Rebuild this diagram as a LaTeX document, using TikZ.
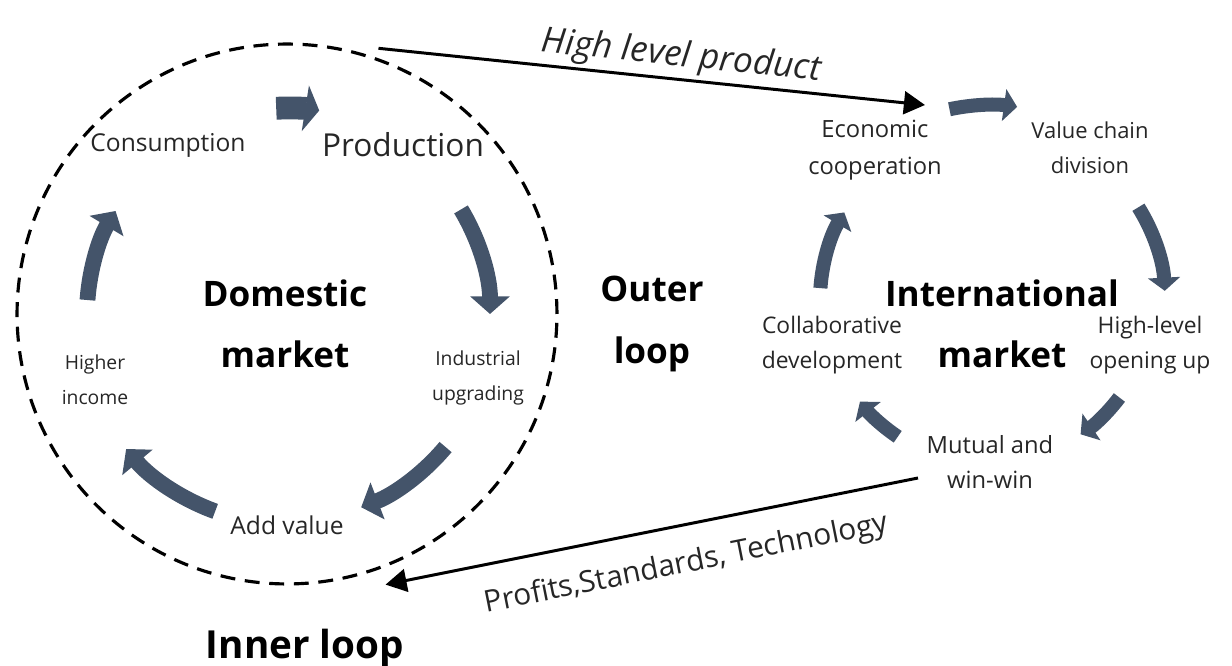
\documentclass[tikz,border=0pt]{standalone}
\usepackage{fontspec}
\setmainfont{Open Sans}
\usepackage{xcolor}
\definecolor{loopBlue}{HTML}{44546A}
\definecolor{loopText}{HTML}{262626}
\usepackage{tikz}
\usetikzlibrary{positioning, arrows.meta, calc}

\begin{document}
\begin{tikzpicture}[
    x=0.02cm, y=0.02cm,
    % labels of the cycle steps
    stepLbl/.style={align=center, inner sep=1pt, text=loopText,
        font=\fontsize{13}{20}\selectfont},
    bigLbl/.style={align=center, inner sep=1pt,
        font=\fontsize{20}{35}\selectfont\bfseries},
    % thick block arrows of the two loops
    cycArrow/.style={draw=loopBlue, line width=9pt,
        -{Triangle[width=22pt, length=10pt]}},
    cycArrowS/.style={draw=loopBlue, line width=8pt,
        -{Triangle[width=18pt, length=7.5pt]}},
    cycArrowT/.style={draw=loopBlue, line width=13pt,
        -{Triangle[width=26pt, length=8pt]}},
    % black connectors between the markets
    link/.style={line width=1.7pt, -{Triangle[width=13pt, length=12pt]}},
    linkLbl/.style={inner sep=1pt, text=loopText},
]
\useasboundingbox (0,0) rectangle (1232,666);

%% =================================================================
%% Domestic market (inner loop)
%% =================================================================
\coordinate (dc) at (287,352);
\node[circle, draw, line width=1.8pt, dash pattern=on 8.5pt off 5.5pt,
      minimum size=10.8cm, inner sep=0pt] (dom) at (dc) {};

\node[stepLbl, font=\fontsize{14}{20}\selectfont] (consum) at (168,521) {Consumption};
\node[stepLbl, font=\fontsize{18}{22}\selectfont] (prod) at (403,521) {Production};
\node[stepLbl, font=\fontsize{11}{20}\selectfont] (indus) at (478,288) {Industrial\\upgrading};
\node[stepLbl, font=\fontsize{14}{20}\selectfont] (addv) at (287,141) {Add value};
\node[stepLbl, font=\fontsize{11}{20}\selectfont] (higher) at (95,286) {Higher\\income};
\node[bigLbl] (domlbl) at (285,342) {Domestic\\market};

\draw[cycArrowT] ($(dc)+(93:206)$) arc[start angle=93, end angle=81, radius=206];
\draw[cycArrow] ($(dc)+(31:203)$) arc[start angle=31, end angle=0, radius=203];
\draw[cycArrow] ($(dc)+(-40:207)$) arc[start angle=-40, end angle=-69, radius=207];
\draw[cycArrow] ($(dc)+(-110:210)$) arc[start angle=-110, end angle=-140, radius=210];
\draw[cycArrow] ($(dc)+(176:200)$) arc[start angle=176, end angle=149, radius=200];

\node[bigLbl] (outer) at (652,342) {Outer\\loop};
\node[bigLbl, font=\fontsize{22}{26}\selectfont\bfseries] (inner) at (305,18) {Inner loop};

%% =================================================================
%% International market (outer loop)
%% =================================================================
\coordinate (rc) at (990,366);
\node[stepLbl, font=\fontsize{13.5}{21}\selectfont] (econ) at (875,516) {Economic\\cooperation};
\node[stepLbl, font=\fontsize{12.5}{20}\selectfont] (vcd) at (1090,518) {Value chain\\division};
\node[stepLbl, font=\fontsize{13}{20}\selectfont] (hlo) at (1150,321) {High-level\\opening up};
\node[stepLbl, font=\fontsize{13.5}{20}\selectfont] (mutual) at (990,204) {Mutual and\\win-win};
\node[stepLbl, font=\fontsize{13}{20}\selectfont] (collab) at (832,321) {Collaborative\\development};
\node[bigLbl] (intl) at (1002,342) {International\\market};

\draw[cycArrowS] ($(rc)+(102:195)$) arc[start angle=102, end angle=82, radius=195];
\draw[cycArrowS] ($(rc)+(32:175)$) arc[start angle=32, end angle=3, radius=175];
\draw[cycArrowS] ($(rc)+(-37:162)$) arc[start angle=-37, end angle=-56, radius=162];
\draw[cycArrowS] ($(rc)+(-124:165)$) arc[start angle=-124, end angle=-142, radius=165];
\draw[cycArrowS] ($(rc)+(176:170)$) arc[start angle=176, end angle=149, radius=170];

%% =================================================================
%% Connectors between the two markets
%% =================================================================
\coordinate (domOut) at ($(dc)+(71:281)$);
\coordinate (econIn) at (925,561);
\coordinate (mutOut) at (918,188);
\coordinate (domIn) at ($(dc)+(-70:288)$);

\draw[link] (domOut) -- node[linkLbl, pos=0.55, sloped, above=1pt,
    font=\fontsize{20}{22}\selectfont\itshape] {High level product} (econIn);
\draw[link] (mutOut) -- node[linkLbl, pos=0.45, sloped, below=12pt,
    font=\fontsize{17}{19}\selectfont] {Profits,Standards, Technology} (domIn);

\end{tikzpicture}
\end{document}
